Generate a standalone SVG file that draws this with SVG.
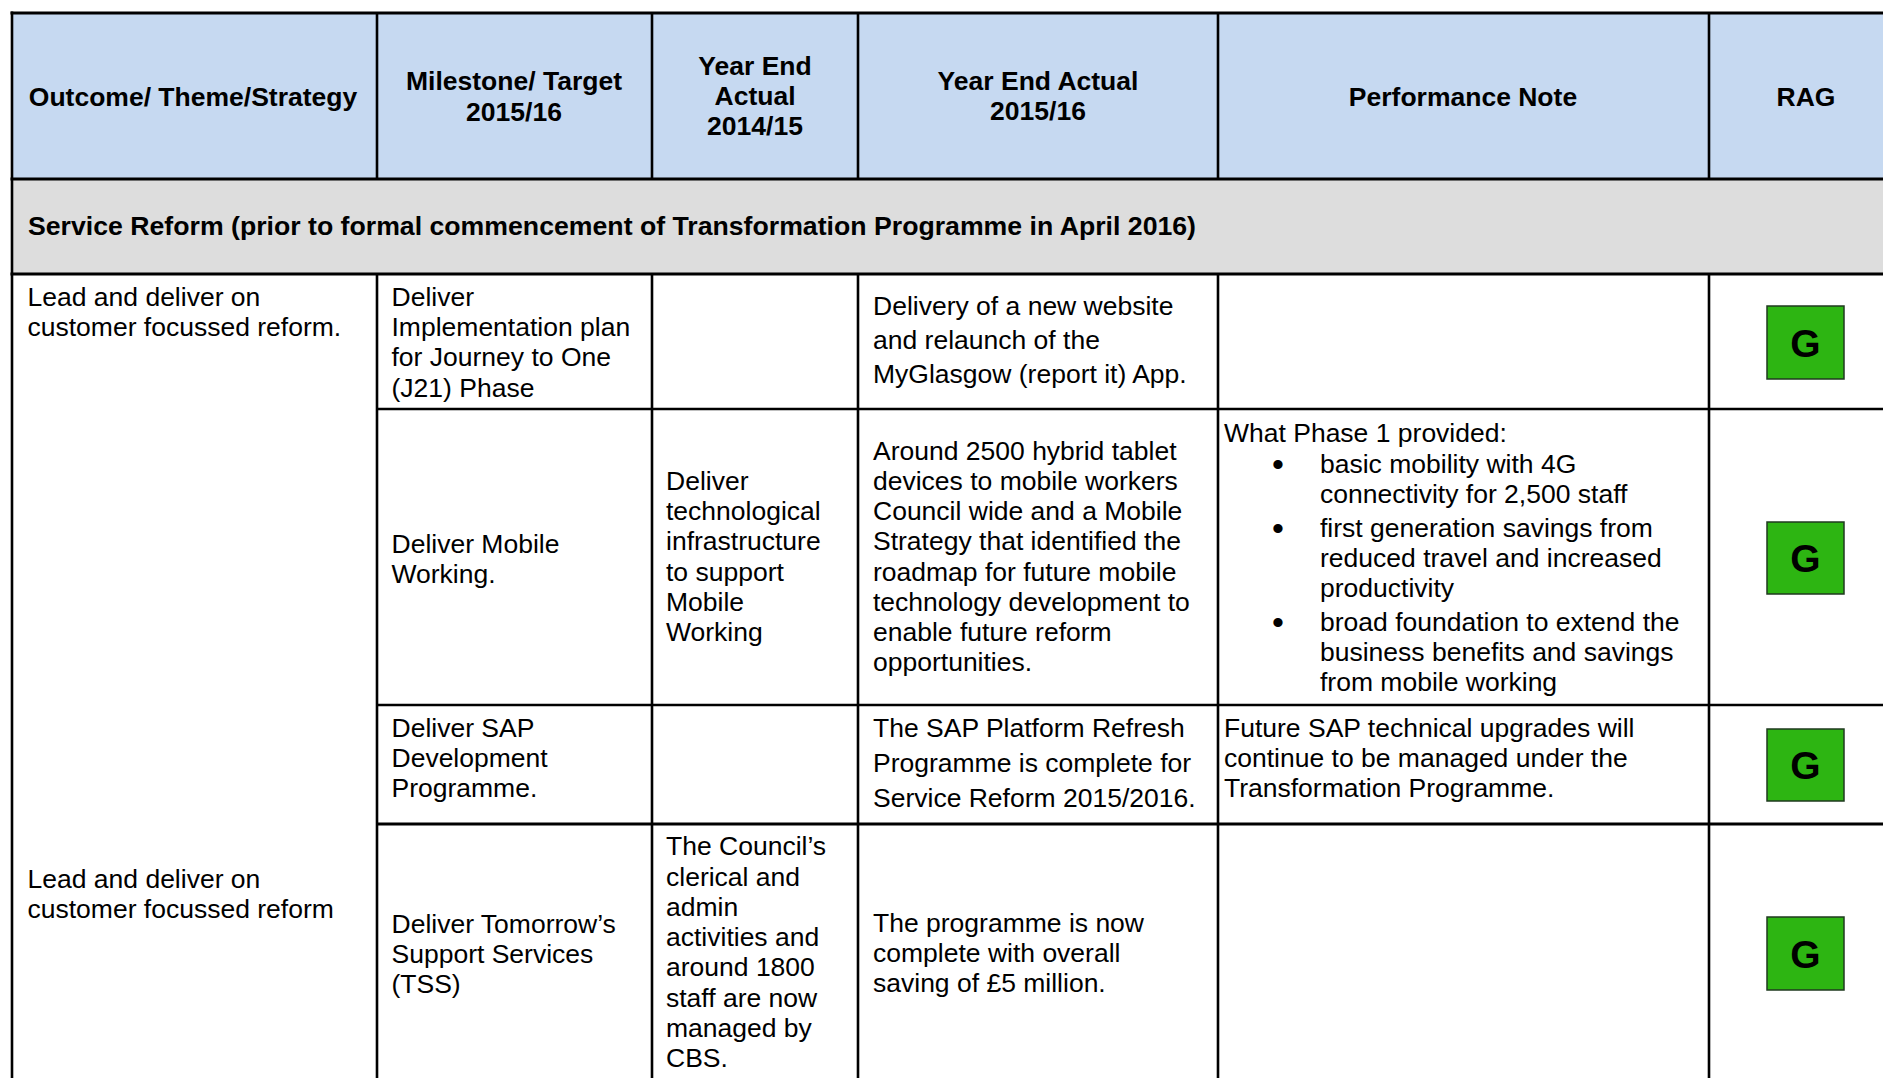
<svg xmlns="http://www.w3.org/2000/svg" width="1883" height="1078" viewBox="0 0 1883 1078">
<style>
text{font-family:"Liberation Sans",Arial,sans-serif;font-size:26.5px;fill:#000}
.b{font-weight:bold}
.c{text-anchor:middle}
.bu{text-anchor:middle;font-size:34px}
.ln{stroke:#000;stroke-width:2.6;fill:none}
.hl{stroke:#000;stroke-width:3.2;fill:none}
.g{fill:#2db512;stroke:#1f3a1f;stroke-width:1.5}
.gt{font-weight:bold;font-size:39px;text-anchor:middle}
</style>
<rect width="1883" height="1078" fill="#fff"/>
<g id="header">
<rect x="12" y="13" width="1871" height="166" fill="#c6d9f1"/>
<text class="b c" x="193" y="106">Outcome/ Theme/Strategy</text>
<text class="b c" x="514" y="90">Milestone/ Target</text>
<text class="b c" x="514" y="120.5">2015/16</text>
<text class="b c" x="755" y="75">Year End</text>
<text class="b c" x="755" y="105">Actual</text>
<text class="b c" x="755" y="135">2014/15</text>
<text class="b c" x="1038" y="89.5">Year End Actual</text>
<text class="b c" x="1038" y="120">2015/16</text>
<text class="b c" x="1463" y="106">Performance Note</text>
<text class="b c" x="1806" y="106">RAG</text>
</g>
<g id="section">
<rect x="12" y="179" width="1871" height="95" fill="#dddddd"/>
<text class="b" x="28" y="235" textLength="1168" lengthAdjust="spacingAndGlyphs">Service Reform (prior to formal commencement of Transformation Programme in April 2016)</text>
</g>
<g id="outcome-1">
<text x="27.5" y="305.5">Lead and deliver on</text>
<text x="27.5" y="336">customer focussed reform.</text>
</g>
<g id="outcome-2">
<text x="27.5" y="888">Lead and deliver on</text>
<text x="27.5" y="918">customer focussed reform</text>
</g>
<g id="row-j21">
<text x="391.5" y="305.5">Deliver</text>
<text x="391.5" y="336">Implementation plan</text>
<text x="391.5" y="366">for Journey to One</text>
<text x="391.5" y="396.5">(J21) Phase</text>
<text x="873" y="315">Delivery of a new website</text>
<text x="873" y="349">and relaunch of the</text>
<text x="873" y="383">MyGlasgow (report it) App.</text>
<rect class="g" x="1767" y="306" width="77" height="73"/>
<text class="gt" x="1805.5" y="356.5">G</text>
</g>
<g id="row-mobile">
<text x="391.5" y="553">Deliver Mobile</text>
<text x="391.5" y="583">Working.</text>
<text x="666" y="490">Deliver</text>
<text x="666" y="520">technological</text>
<text x="666" y="550">infrastructure</text>
<text x="666" y="580.5">to support</text>
<text x="666" y="610.5">Mobile</text>
<text x="666" y="640.5">Working</text>
<text x="873" y="459.5">Around 2500 hybrid tablet</text>
<text x="873" y="490">devices to mobile workers</text>
<text x="873" y="520">Council wide and a Mobile</text>
<text x="873" y="550">Strategy that identified the</text>
<text x="873" y="580.5">roadmap for future mobile</text>
<text x="873" y="610.5">technology development to</text>
<text x="873" y="640.5">enable future reform</text>
<text x="873" y="670.5">opportunities.</text>
<text x="1224" y="441.5">What Phase 1 provided:</text>
<text class="bu" x="1278" y="476">•</text>
<text x="1320" y="473">basic mobility with 4G</text>
<text x="1320" y="503">connectivity for 2,500 staff</text>
<text class="bu" x="1278" y="539.5">•</text>
<text x="1320" y="536.5">first generation savings from</text>
<text x="1320" y="566.5">reduced travel and increased</text>
<text x="1320" y="596.5">productivity</text>
<text class="bu" x="1278" y="633.5">•</text>
<text x="1320" y="630.5">broad foundation to extend the</text>
<text x="1320" y="660.5">business benefits and savings</text>
<text x="1320" y="690.5">from mobile working</text>
<rect class="g" x="1767" y="522" width="77" height="72"/>
<text class="gt" x="1805.5" y="572">G</text>
</g>
<g id="row-sap">
<text x="391.5" y="736.5">Deliver SAP</text>
<text x="391.5" y="766.5">Development</text>
<text x="391.5" y="796.5">Programme.</text>
<text x="873" y="736.5">The SAP Platform Refresh</text>
<text x="873" y="771.5">Programme is complete for</text>
<text x="873" y="806.5">Service Reform 2015/2016.</text>
<text x="1224" y="736.5">Future SAP technical upgrades will</text>
<text x="1224" y="766.5">continue to be managed under the</text>
<text x="1224" y="796.5">Transformation Programme.</text>
<rect class="g" x="1767" y="729" width="77" height="72"/>
<text class="gt" x="1805.5" y="779">G</text>
</g>
<g id="row-tss">
<text x="391.5" y="932.5">Deliver Tomorrow’s</text>
<text x="391.5" y="963">Support Services</text>
<text x="391.5" y="993">(TSS)</text>
<text x="666" y="855">The Council’s</text>
<text x="666" y="885.5">clerical and</text>
<text x="666" y="915.5">admin</text>
<text x="666" y="945.5">activities and</text>
<text x="666" y="976">around 1800</text>
<text x="666" y="1006.5">staff are now</text>
<text x="666" y="1036.5">managed by</text>
<text x="666" y="1066.5">CBS.</text>
<text x="873" y="931.5">The programme is now</text>
<text x="873" y="961.5">complete with overall</text>
<text x="873" y="991.5">saving of £5 million.</text>
<rect class="g" x="1767" y="917" width="77" height="73"/>
<text class="gt" x="1805.5" y="967.5">G</text>
</g>
<g id="connectors">
<line class="hl" x1="10.5" y1="13" x2="1883" y2="13"/>
<line class="hl" x1="10.5" y1="179" x2="1883" y2="179"/>
<line class="hl" x1="10.5" y1="274" x2="1883" y2="274"/>
<line class="ln" x1="376" y1="409" x2="1883" y2="409"/>
<line class="ln" x1="376" y1="705" x2="1883" y2="705"/>
<line class="hl" x1="376" y1="824" x2="1883" y2="824"/>
<line class="ln" x1="12" y1="11.5" x2="12" y2="1078"/>
<line class="ln" x1="377" y1="13" x2="377" y2="179"/>
<line class="ln" x1="652" y1="13" x2="652" y2="179"/>
<line class="ln" x1="858" y1="13" x2="858" y2="179"/>
<line class="ln" x1="1218" y1="13" x2="1218" y2="179"/>
<line class="ln" x1="1709" y1="13" x2="1709" y2="179"/>
<line class="ln" x1="377" y1="274" x2="377" y2="1078"/>
<line class="ln" x1="652" y1="274" x2="652" y2="1078"/>
<line class="ln" x1="858" y1="274" x2="858" y2="1078"/>
<line class="ln" x1="1218" y1="274" x2="1218" y2="1078"/>
<line class="ln" x1="1709" y1="274" x2="1709" y2="1078"/>
</g>
</svg>
